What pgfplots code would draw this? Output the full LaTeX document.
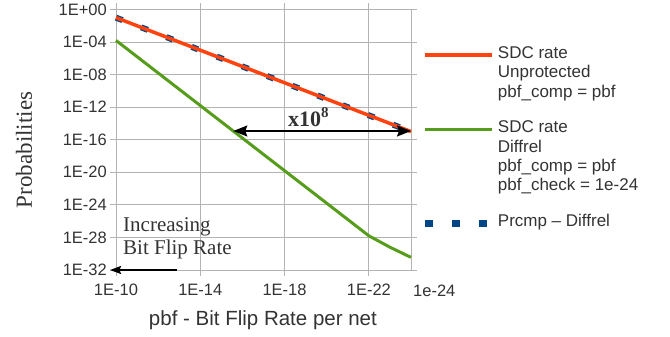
\documentclass[border=0pt]{standalone}
\usepackage{fontspec}
\setmainfont{Liberation Serif}
\setsansfont{Liberation Sans}
\usepackage{pgfplots}
\pgfplotsset{compat=1.18}
\usetikzlibrary{arrows.meta}
\definecolor{cred}{HTML}{FF420E}
\definecolor{cgreen}{HTML}{579D1C}
\definecolor{cblue}{HTML}{004586}
\definecolor{txt}{HTML}{333333}
\definecolor{gridc}{HTML}{B3B3B3}
\begin{document}
\begin{tikzpicture}[x=1pt,y=1pt]
\useasboundingbox (0,0) rectangle (670,337);
\begin{axis}[
  at={(116pt,67pt)}, anchor=south west,
  width=295pt, height=260.5pt, scale only axis,
  xmode=log, ymode=log, x dir=reverse,
  xmin=1e-24, xmax=1e-10, ymin=1e-32, ymax=1,
  xtick={1e-10,1e-14,1e-18,1e-22},
  xticklabels={1E-10,1E-14,1E-18,1E-22},
  ytick={1e-32,1e-28,1e-24,1e-20,1e-16,1e-12,1e-8,1e-4,1},
  yticklabels={1E-32,1E-28,1E-24,1E-20,1E-16,1E-12,1E-08,1E-04,1E+00},
  minor tick num=0,
  grid=major, major grid style={gridc, line width=0.8pt},
  axis line style={gridc, line width=0.8pt},
  tick style={gridc, line width=0.8pt},
  tick align=outside, major tick length=6pt,
  ticklabel style={font=\sffamily\fontsize{16.5}{19}\selectfont, text=txt},
  xticklabel style={inner sep=0pt, yshift=-8pt},
  yticklabel style={inner sep=0pt, xshift=-3pt},
  clip=false,
  xlabel={pbf - Bit Flip Rate per net},
  xlabel style={at={(axis description cs:0.498,-0.194)}, anchor=center, inner sep=0pt,
    font=\sffamily\fontsize{20.5}{24}\selectfont, text=txt},
  ylabel={Probabilities},
  ylabel style={at={(axis description cs:-0.312,0.4607)}, anchor=center, inner sep=0pt,
    font=\rmfamily\fontsize{23}{27}\selectfont, text=txt},
  legend cell align=left,
  legend style={draw=none, fill=none, at={(axis description cs:1.037,0.863)}, anchor=north west,
    inner sep=0pt, outer sep=0pt, row sep=0pt, column sep=2pt,
    font=\sffamily\fontsize{17}{19.3}\selectfont, text=txt,
    nodes={inner sep=0pt, text height=13.5pt, text depth=5.8pt}},
  legend image code/.code={\path[draw=none,fill=none] (0pt,-8pt) rectangle (67pt,3.5pt); \draw[#1] (0pt,0pt) -- (67pt,0pt);},
]
\addlegendimage{cred, line width=3.5pt}
\addlegendentry{SDC rate}
\addlegendimage{empty legend}
\addlegendentry{Unprotected}
\addlegendimage{empty legend}
\addlegendentry{pbf\_comp = pbf}
\addlegendimage{empty legend}
\addlegendentry[text height=16.4pt, text depth=0pt]{}
\addlegendimage{cgreen, line width=3pt}
\addlegendentry{SDC rate}
\addlegendimage{empty legend}
\addlegendentry{Diffrel}
\addlegendimage{empty legend}
\addlegendentry{pbf\_comp = pbf}
\addlegendimage{empty legend}
\addlegendentry{pbf\_check = 1e-24}
\addlegendimage{empty legend}
\addlegendentry[text height=16.8pt, text depth=0pt]{}
\addlegendimage{cblue, line width=7pt, dash pattern=on 8pt off 18.7pt}
\addlegendentry{Prcmp -- Diffrel}

% Prcmp - Diffrel (dotted, drawn below red)
\addplot[cblue, line width=6pt, dash pattern=on 7pt off 20pt, forget plot] coordinates {
 (1e-10,1e-1) (1e-11,1e-2) (1e-12,1e-3) (1e-13,1e-4) (1e-14,1e-5) (1e-15,1e-6)
 (1e-16,1e-7) (1e-17,1e-8) (1e-18,1e-9) (1e-19,1e-10) (1e-20,1e-11) (1e-21,1e-12)
 (1e-22,1e-13) (1e-23,1e-14) (1e-24,1e-15)};
% SDC rate unprotected
\addplot[cred, line width=3.5pt, forget plot] coordinates {
 (1e-10,1e-1) (1e-11,1e-2) (1e-12,1e-3) (1e-13,1e-4) (1e-14,1e-5) (1e-15,1e-6)
 (1e-16,1e-7) (1e-17,1e-8) (1e-18,1e-9) (1e-19,1e-10) (1e-20,1e-11) (1e-21,1e-12)
 (1e-22,1e-13) (1e-23,1e-14) (1e-24,1e-15)};
% SDC rate diffrel
\addplot[cgreen, line width=3pt, forget plot] coordinates {
 (1e-10,1.585e-4) (1e-11,1.585e-6) (1e-12,1.585e-8) (1e-13,1.585e-10) (1e-14,1.585e-12)
 (1e-15,1.585e-14) (1e-16,1.585e-16) (1e-17,1.585e-18) (1e-18,1.585e-20) (1e-19,1.585e-22)
 (1e-20,1.585e-24) (1e-21,1.585e-26) (1e-22,1.585e-28) (1e-23,6.31e-30) (1e-24,3.548e-31)};

\draw[{Stealth[length=14pt,width=11pt,inset=2pt]}-{Stealth[length=14pt,width=11pt,inset=2pt]}, line width=1.8pt, black]
  (axis description cs:0.3976,0.5336) -- (axis description cs:1,0.5336);
\node[anchor=base west, inner sep=0pt, text=txt, font=\rmfamily\bfseries\fontsize{22}{26}\selectfont]
  at (axis description cs:0.583,0.550) {x10\raisebox{0.42em}{\fontsize{15}{15}\selectfont 8}};
\node[anchor=west, align=left, inner sep=0pt, text=txt, font=\rmfamily\fontsize{21}{22.6}\selectfont]
  at (axis description cs:0.0237,0.1228) {Increasing\\Bit Flip Rate};
\draw[-{Stealth[length=11pt,width=8pt,inset=1.5pt]}, line width=1.6pt, black]
  (axis description cs:0.2058,0) -- (axis description cs:-0.0203,0);
\node[anchor=north west, inner sep=0pt, text=txt, font=\sffamily\fontsize{16.5}{19}\selectfont]
  at (axis description cs:1,0) [xshift=2pt, yshift=-14.7pt] {1e-24};
\end{axis}
\end{tikzpicture}
\end{document}
